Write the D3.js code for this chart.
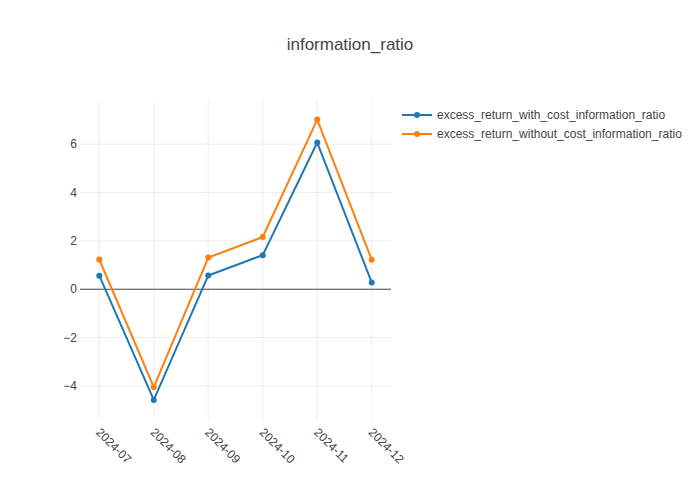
<!DOCTYPE html>
<html><head><meta charset="utf-8">
<script src="https://cdn.jsdelivr.net/npm/d3@7"></script>
<style>body{margin:0;background:#fff}svg{display:block}</style>
</head><body><svg id="c" width="700" height="500"></svg>
<script>
const categories = ["2024-07","2024-08","2024-09","2024-10","2024-11","2024-12"];
const withCost = [0.56, -4.58, 0.57, 1.41, 6.07, 0.28];
const withoutCost = [1.23, -4.05, 1.31, 2.16, 7.02, 1.22];
const seriesNames = ["excess_return_with_cost_information_ratio","excess_return_without_cost_information_ratio"];
const colors = ["#1f77b4","#ff7f0e"];
const yTicks = [-4,-2,0,2,4,6];
const title = "information_ratio";

const svg = d3.select("#c");
const L=80, R=391, T=100, B=420;
const font = "'Liberation Sans', Arial, sans-serif";
const x = d3.scaleLinear().domain([-0.354, categories.length-1+0.354]).range([L,R]);
const y = d3.scaleLinear().domain([-5.41, 7.83]).range([B,T]);

const g = svg.append("g");
// grid
g.selectAll(".vg").data(categories).enter().append("line")
 .attr("x1",(d,i)=>x(i)).attr("x2",(d,i)=>x(i)).attr("y1",T).attr("y2",B)
 .attr("stroke","#eee").attr("stroke-width",1);
g.selectAll(".hg").data(yTicks.filter(t=>t!==0)).enter().append("line")
 .attr("x1",L).attr("x2",R).attr("y1",d=>y(d)).attr("y2",d=>y(d))
 .attr("stroke","#eee").attr("stroke-width",1);
g.append("line").attr("x1",L).attr("x2",R).attr("y1",y(0)).attr("y2",y(0))
 .attr("stroke","#444").attr("stroke-width",1);

// y tick labels
g.selectAll(".yt").data(yTicks).enter().append("text")
 .attr("x",L-3).attr("y",d=>y(d)).attr("dy","0.35em")
 .attr("text-anchor","end").attr("font-family",font).attr("font-size",12).attr("fill","#444")
 .text(d=>d<0?"\u2212"+Math.abs(d):d);

// x tick labels rotated 45
g.selectAll(".xt").data(categories).enter().append("text")
 .attr("transform",(d,i)=>`translate(${x(i)-1},${B+10}) rotate(45)`)
 .attr("text-anchor","start").attr("dy","0.35em")
 .attr("font-family",font).attr("font-size",12).attr("fill","#444")
 .text(d=>d);

const series = [withCost, withoutCost];
const line = d3.line().x((d,i)=>x(i)).y(d=>y(d));
series.forEach((s,k)=>{
  g.append("path").datum(s).attr("d",line).attr("fill","none")
   .attr("stroke",colors[k]).attr("stroke-width",2).attr("stroke-linejoin","round");
  g.selectAll(".pt"+k).data(s).enter().append("circle")
   .attr("cx",(d,i)=>x(i)).attr("cy",d=>y(d)).attr("r",3).attr("fill",colors[k]);
});

// legend
seriesNames.forEach((n,k)=>{
  const ly = 115 + k*19;
  svg.append("line").attr("x1",402).attr("x2",432).attr("y1",ly).attr("y2",ly)
   .attr("stroke",colors[k]).attr("stroke-width",2);
  svg.append("circle").attr("cx",417).attr("cy",ly).attr("r",3).attr("fill",colors[k]);
  svg.append("text").attr("x",437).attr("y",ly).attr("dy","0.35em")
   .attr("font-family",font).attr("font-size",12).attr("fill","#444").text(n);
});

svg.append("text").attr("x",350).attr("y",50).attr("text-anchor","middle")
 .attr("font-family",font).attr("font-size",17).attr("fill","#444").text(title);
</script></body></html>
